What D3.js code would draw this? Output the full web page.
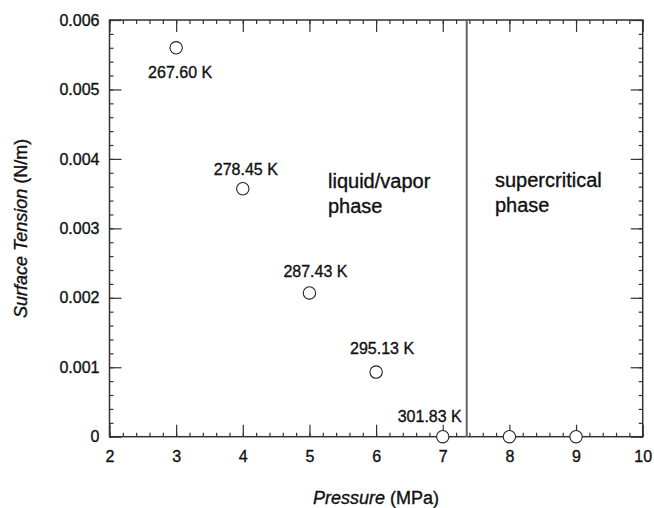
<!DOCTYPE html>
<html>
<head>
<meta charset="utf-8">
<script src="https://cdn.jsdelivr.net/npm/d3@7"></script>
<style>
  body { margin: 0; background: #fff; }
  text { font-family: "Liberation Sans", Arial, sans-serif; fill: #111; stroke: #111; stroke-width: 0.35px; }
</style>
</head>
<body>
<div id="chart"></div>
<script>
(function () {
  // data
  let pressure = [3, 4, 5, 6, 7, 8, 9];
  let tension = [0.0056, 0.00357, 0.00207, 0.00093, 0, 0, 0];
  let tempLabels = ['267.60 K', '278.45 K', '287.43 K', '295.13 K', '301.83 K', '', ''];
  let criticalPressure = 7.36;
  let xTicks = [2, 3, 4, 5, 6, 7, 8, 9, 10];
  let yTicks = [0, 0.001, 0.002, 0.003, 0.004, 0.005, 0.006];

  // label nudges in px (dx, dy from the point)
  let labelNudge = [[4, 30], [3, -14], [6, -16], [6, -18], [-13, -15], [0, 0], [0, 0]];

  let width = 654,
    height = 508;

  let margin = { left: 109.5, right: 11.3, top: 20, bottom: 71.3 };

  let svg = d3.select('#chart').append('svg')
    .attr('width', width)
    .attr('height', height);

  let xScale = d3.scaleLinear()
    .domain([2, 10])
    .range([margin.left, width - margin.right]);

  let yScale = d3.scaleLinear()
    .domain([0, 0.006])
    .range([height - margin.bottom, margin.top]);

  let minorX = d3.range(2, 10.001, 0.2);
  let minorY = d3.range(0, 0.00601, 0.0002);

  let frameColor = '#333';

  function styleAxis(g) {
    g.select('.domain').remove();
    g.selectAll('line').attr('stroke', frameColor).attr('stroke-width', 1.2);
    g.selectAll('text').style('font-size', '16px').attr('fill', '#111');
  }

  // bottom
  svg.append('g')
    .attr('transform', 'translate(0,' + yScale(0) + ')')
    .call(d3.axisBottom(xScale).tickValues(minorX).tickSize(-4).tickFormat(''))
    .call(styleAxis);
  svg.append('g')
    .attr('transform', 'translate(0,' + yScale(0) + ')')
    .call(d3.axisBottom(xScale).tickValues(xTicks).tickSize(-12).tickPadding(14).tickFormat(d3.format('d')))
    .call(styleAxis);

  // top
  svg.append('g')
    .attr('transform', 'translate(0,' + yScale(0.006) + ')')
    .call(d3.axisTop(xScale).tickValues(minorX).tickSize(-4).tickFormat(''))
    .call(styleAxis);
  svg.append('g')
    .attr('transform', 'translate(0,' + yScale(0.006) + ')')
    .call(d3.axisTop(xScale).tickValues(xTicks).tickSize(-12).tickFormat(''))
    .call(styleAxis);

  // left
  svg.append('g')
    .attr('transform', 'translate(' + xScale(2) + ',0)')
    .call(d3.axisLeft(yScale).tickValues(minorY).tickSize(-4).tickFormat(''))
    .call(styleAxis);
  svg.append('g')
    .attr('transform', 'translate(' + xScale(2) + ',0)')
    .call(d3.axisLeft(yScale).tickValues(yTicks).tickSize(-12).tickPadding(10)
      .tickFormat((d) => d === 0 ? '0' : d3.format('.3f')(d)))
    .call(styleAxis);

  // right
  svg.append('g')
    .attr('transform', 'translate(' + xScale(10) + ',0)')
    .call(d3.axisRight(yScale).tickValues(minorY).tickSize(-4).tickFormat(''))
    .call(styleAxis);
  svg.append('g')
    .attr('transform', 'translate(' + xScale(10) + ',0)')
    .call(d3.axisRight(yScale).tickValues(yTicks).tickSize(-12).tickFormat(''))
    .call(styleAxis);

  // frame
  svg.append('rect')
    .attr('x', xScale(2))
    .attr('y', yScale(0.006))
    .attr('width', xScale(10) - xScale(2))
    .attr('height', yScale(0) - yScale(0.006))
    .attr('fill', 'none')
    .attr('stroke', frameColor)
    .attr('stroke-width', 1.5);

  // critical pressure line
  svg.append('line')
    .attr('x1', xScale(criticalPressure))
    .attr('x2', xScale(criticalPressure))
    .attr('y1', yScale(0.006))
    .attr('y2', yScale(0))
    .attr('stroke', '#666')
    .attr('stroke-width', 2);

  // phase labels
  let phaseText = [
    { lines: ['liquid/vapor', 'phase'], x: 328, y: 188 },
    { lines: ['supercritical', 'phase'], x: 495, y: 187 }
  ];
  phaseText.forEach((p) => {
    let t = svg.append('text')
      .attr('x', p.x)
      .attr('y', p.y)
      .style('font-size', '20px');
    p.lines.forEach((l, i) => {
      t.append('tspan')
        .attr('x', p.x)
        .attr('dy', i === 0 ? 0 : 25)
        .text(l);
    });
  });

  // temperature labels
  svg.append('g').selectAll('text.tlabel')
    .data(pressure).enter()
    .append('text')
    .attr('class', 'tlabel')
    .attr('x', (d, i) => xScale(d) + labelNudge[i][0])
    .attr('y', (d, i) => yScale(tension[i]) + labelNudge[i][1])
    .attr('text-anchor', 'middle')
    .style('font-size', '16px')
    .text((d, i) => tempLabels[i]);

  // points
  svg.append('g').selectAll('circle')
    .data(pressure).enter()
    .append('circle')
    .attr('cx', (d) => xScale(d))
    .attr('cy', (d, i) => yScale(tension[i]))
    .attr('r', 6.2)
    .attr('fill', '#fff')
    .attr('stroke', '#222')
    .attr('stroke-width', 1.1);

  // axis titles
  let xTitle = svg.append('text')
    .attr('x', (xScale(2) + xScale(10)) / 2)
    .attr('y', 504)
    .attr('text-anchor', 'middle')
    .style('font-size', '18px');
  xTitle.append('tspan').style('font-style', 'italic').text('Pressure');
  xTitle.append('tspan').text(' (MPa)');

  let yMid = (yScale(0) + yScale(0.006)) / 2;
  let yTitle = svg.append('text')
    .attr('transform', 'translate(27,' + yMid + ') rotate(-90)')
    .attr('text-anchor', 'middle')
    .style('font-size', '18px');
  yTitle.append('tspan').style('font-style', 'italic').text('Surface Tension');
  yTitle.append('tspan').text(' (N/m)');
})();
</script>
</body>
</html>
